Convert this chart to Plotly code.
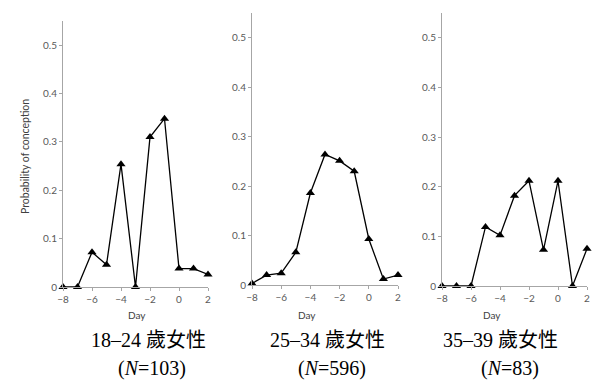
import plotly.graph_objects as go

days = [-8, -7, -6, -5, -4, -3, -2, -1, 0, 1, 2]
p_18_24 = [0, 0, 0.072, 0.046, 0.254, 0, 0.31, 0.348, 0.038, 0.038, 0.026]
p_25_34 = [0.003, 0.02, 0.024, 0.066, 0.186, 0.264, 0.251, 0.23, 0.093, 0.012, 0.02]
p_35_39 = [0, 0, 0, 0.119, 0.102, 0.182, 0.212, 0.073, 0.212, 0, 0.075]
series = [p_18_24, p_25_34, p_35_39]
titles = ["18–24 歲女性", "25–34 歲女性", "35–39 歲女性"]
ns = ["103", "596", "83"]
y_ticks = [0, 0.1, 0.2, 0.3, 0.4, 0.5]
y_tick_text = ["0", "0.1", "0.2", "0.3", "0.4", "0.5"]
x_ticks = [-8, -6, -4, -2, 0, 2]

W, H = 611, 389
# pixel geometry of each panel: x_left, x_right, y_zero, y_top(0.55)
panels = [(63, 208, 287, 21), (252, 398, 285, 13), (442, 587, 286, 13)]
day_x = [137, 307, 492]
title_x = [148, 327, 501]
n_x = [152, 332, 510]

fig = go.Figure()
axis_col = "#a6a6a6"
tick_font = dict(family="Lato, Open Sans, sans-serif", size=10, color="#595959")

for i, (vals, (xl, xr, yz, yt)) in enumerate(zip(series, panels)):
    k = "" if i == 0 else str(i + 1)
    fig.add_trace(go.Scatter(
        x=days, y=vals, mode="lines+markers",
        line=dict(color="black", width=1.3),
        marker=dict(symbol="triangle-up", size=8, color="black"),
        cliponaxis=False, showlegend=False,
        xaxis="x" + k, yaxis="y" + k,
    ))
    fig.update_layout(**{
        "xaxis" + k: dict(
            domain=[xl / W, xr / W], range=[-8, 2], anchor="y" + k,
            tickvals=x_ticks, showgrid=False, zeroline=False,
            showline=True, linecolor=axis_col, linewidth=1,
            ticks="outside", ticklen=3, tickcolor=axis_col,
            tickfont=tick_font, automargin=False,
        ),
        "yaxis" + k: dict(
            domain=[1 - yz / H, 1 - yt / H], range=[0, 0.55], anchor="x" + k,
            tickvals=y_ticks, ticktext=y_tick_text, showgrid=False, zeroline=False,
            showline=True, linecolor=axis_col, linewidth=1,
            ticks="outside", ticklen=3, tickcolor=axis_col,
            tickfont=tick_font, automargin=False,
        ),
    })
    fig.add_annotation(x=day_x[i] / W, y=1 - 315 / H, xref="paper", yref="paper",
                       xanchor="center", yanchor="middle",
                       text="Day", showarrow=False,
                       font=dict(family="Lato, Open Sans, sans-serif", size=10, color="#404040"))
    fig.add_annotation(x=title_x[i] / W, y=1 - 340 / H, xref="paper", yref="paper",
                       xanchor="center", yanchor="middle",
                       text=titles[i], showarrow=False,
                       font=dict(family="Liberation Serif, Noto Sans CJK TC", size=20, color="black"))
    fig.add_annotation(x=n_x[i] / W, y=1 - 368 / H, xref="paper", yref="paper",
                       xanchor="center", yanchor="middle",
                       text="(<i>N</i>=" + ns[i] + ")", showarrow=False,
                       font=dict(family="Liberation Serif, Noto Sans CJK TC", size=20, color="black"))

fig.add_annotation(x=25 / W, y=1 - 157 / H, xref="paper", yref="paper",
                   xanchor="center", yanchor="middle",
                   text="Probability of conception", textangle=-90, showarrow=False,
                   font=dict(family="Lato, Open Sans, sans-serif", size=10.5, color="#404040"))

fig.update_layout(width=W, height=H, margin=dict(l=0, r=0, t=0, b=0, autoexpand=False),
                  paper_bgcolor="white", plot_bgcolor="white")
fig.write_html("out.html", config={"displayModeBar": False},
               post_script="document.body.style.margin='0';")
